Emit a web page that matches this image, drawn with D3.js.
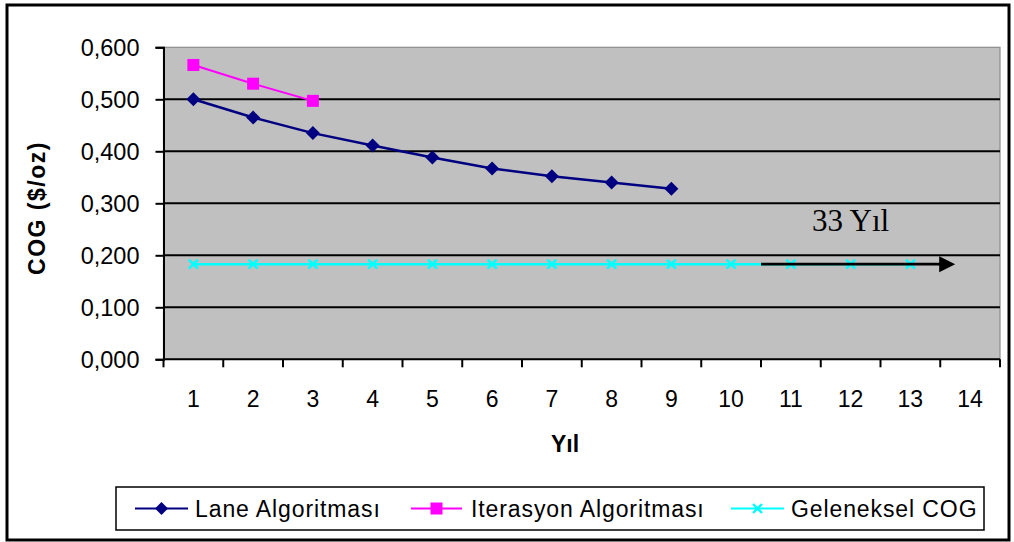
<!DOCTYPE html>
<html>
<head>
<meta charset="utf-8">
<script src="https://cdn.jsdelivr.net/npm/d3@7"></script>
<style>
  html, body { margin: 0; padding: 0; background: #fff; }
  svg { display: block; }
</style>
</head>
<body>
<svg id="chart" width="1014" height="542"></svg>
<script>
// Years on the category axis
const years = [1, 2, 3, 4, 5, 6, 7, 8, 9, 10, 11, 12, 13, 14];
// COG values ($/oz) per year
const laneValues = [0.500, 0.465, 0.435, 0.411, 0.388, 0.367, 0.352, 0.340, 0.328];
const iterValues = [0.566, 0.530, 0.497];
const geleneksel = [0.183, 0.183, 0.183, 0.183, 0.183, 0.183, 0.183, 0.183, 0.183, 0.183, 0.183, 0.183, 0.183];
// Value-axis tick labels
const yTicks = [0, 0.1, 0.2, 0.3, 0.4, 0.5, 0.6];
const yTickLabels = ["0,000", "0,100", "0,200", "0,300", "0,400", "0,500", "0,600"];
// Series names
const seriesNames = ["Lane Algoritması", "Iterasyon Algoritması", "Geleneksel COG"];
// "33 Yıl" note: arrow from year 10.5 to 13.75 at the Geleneksel level
const noteText = "33 Yıl";
const arrowFrom = 10.5, arrowTo = 13.75;

const svg = d3.select("#chart");
const plot = { left: 163.5, right: 1000, top: 47.3, bottom: 359.3 };
const font = "'Liberation Sans', Arial, sans-serif";

// Outer chart frame
svg.append("rect")
  .attr("x", 7).attr("y", 5).attr("width", 1002).attr("height", 535)
  .attr("fill", "#fff").attr("stroke", "#000").attr("stroke-width", 3);

const x = d3.scaleBand().domain(years).range([plot.left, plot.right]).padding(0);
const xc = d3.scaleLinear().domain([0.5, years.length + 0.5]).range([plot.left, plot.right]);
const y = d3.scaleLinear().domain([0, 0.6]).range([plot.bottom, plot.top]);
const cx = d => x(d) + x.bandwidth() / 2;

// Plot area
svg.append("rect")
  .attr("x", plot.left).attr("y", plot.top)
  .attr("width", plot.right - plot.left).attr("height", plot.bottom - plot.top)
  .attr("fill", "#C0C0C0").attr("stroke", "#8c8c8c").attr("stroke-width", 1.2);

// Horizontal gridlines
svg.append("g").selectAll("line")
  .data(yTicks.filter(v => v > 0 && v < 0.6))
  .join("line")
  .attr("x1", plot.left).attr("x2", plot.right)
  .attr("y1", d => y(d)).attr("y2", d => y(d))
  .attr("stroke", "#000").attr("stroke-width", 2);

// Y axis
const yAxis = d3.axisLeft(y).tickValues(yTicks).tickSize(8).tickPadding(0)
  .tickFormat((d, i) => yTickLabels[i]);
const gy = svg.append("g").attr("transform", `translate(${plot.left},0)`).call(yAxis);
gy.select(".domain").attr("stroke", "#000").attr("stroke-width", 2);
gy.selectAll(".tick line").attr("stroke", "#000").attr("stroke-width", 2);
gy.selectAll(".tick text")
  .attr("x", -24).attr("dy", "0.36em")
  .attr("font-family", font).attr("font-size", 23.5).attr("fill", "#000");

// X axis (ticks at category boundaries)
svg.append("line")
  .attr("x1", plot.left).attr("x2", plot.right)
  .attr("y1", plot.bottom).attr("y2", plot.bottom)
  .attr("stroke", "#000").attr("stroke-width", 2);
svg.append("g").selectAll("line")
  .data(d3.range(years.length + 1))
  .join("line")
  .attr("x1", i => xc(i + 0.5)).attr("x2", i => xc(i + 0.5))
  .attr("y1", plot.bottom).attr("y2", plot.bottom + 8)
  .attr("stroke", "#000").attr("stroke-width", 2);
svg.append("g").selectAll("text")
  .data(years)
  .join("text")
  .attr("x", d => cx(d)).attr("y", 406.5)
  .attr("text-anchor", "middle")
  .attr("font-family", font).attr("font-size", 23).attr("fill", "#000")
  .text(d => d);

// Axis titles
svg.append("text")
  .attr("transform", `translate(45,208) rotate(-90)`)
  .attr("text-anchor", "middle")
  .attr("font-family", font).attr("font-size", 23).attr("font-weight", "bold")
  .attr("letter-spacing", 1.5)
  .text("COG ($/oz)");
svg.append("text")
  .attr("x", 565).attr("y", 452)
  .attr("text-anchor", "middle")
  .attr("font-family", font).attr("font-size", 23).attr("font-weight", "bold")
  .text("Yıl");

// Series
const line = d3.line().x((d, i) => cx(years[i])).y(d => y(d));

// Geleneksel COG
svg.append("path").datum(geleneksel)
  .attr("d", line).attr("fill", "none")
  .attr("stroke", "#00FFFF").attr("stroke-width", 2.5);
const xMark = (g, s) => g.append("path")
  .attr("d", `M${-s},${-s}L${s},${s}M${-s},${s}L${s},${-s}`)
  .attr("stroke", "#00FFFF").attr("stroke-width", 2.4).attr("fill", "none");
svg.append("g").selectAll("g")
  .data(geleneksel)
  .join("g")
  .attr("transform", (d, i) => `translate(${cx(years[i])},${y(d)})`)
  .each(function () { xMark(d3.select(this), 4.5); });

// Iterasyon Algoritması
svg.append("path").datum(iterValues)
  .attr("d", line).attr("fill", "none")
  .attr("stroke", "#FF00FF").attr("stroke-width", 2);
svg.append("g").selectAll("rect")
  .data(iterValues)
  .join("rect")
  .attr("x", (d, i) => cx(years[i]) - 6).attr("y", d => y(d) - 6)
  .attr("width", 12).attr("height", 12)
  .attr("fill", "#FF00FF");

// Lane Algoritması
svg.append("path").datum(laneValues)
  .attr("d", line).attr("fill", "none")
  .attr("stroke", "#000080").attr("stroke-width", 2.5);
const diamond = s => `M0,${-s}L${s},0L0,${s}L${-s},0Z`;
svg.append("g").selectAll("path")
  .data(laneValues)
  .join("path")
  .attr("d", diamond(7))
  .attr("transform", (d, i) => `translate(${cx(years[i])},${y(d)})`)
  .attr("fill", "#000080");

// Arrow annotation
const arrowY = y(geleneksel[0]);
svg.append("line")
  .attr("x1", xc(arrowFrom)).attr("x2", xc(arrowTo) - 12)
  .attr("y1", arrowY).attr("y2", arrowY)
  .attr("stroke", "#000").attr("stroke-width", 2.8);
svg.append("path")
  .attr("d", `M${xc(arrowTo)},${arrowY}L${xc(arrowTo) - 16},${arrowY - 8}L${xc(arrowTo) - 16},${arrowY + 8}Z`)
  .attr("fill", "#000");
svg.append("text")
  .attr("x", xc(12)).attr("y", y(0.247))
  .attr("text-anchor", "middle")
  .attr("font-family", "'Liberation Serif', 'Times New Roman', serif")
  .attr("font-size", 31).attr("fill", "#000")
  .text(noteText);

// Legend
const legend = svg.append("g");
legend.append("rect")
  .attr("x", 116).attr("y", 487).attr("width", 868).attr("height", 43)
  .attr("fill", "#fff").attr("stroke", "#000").attr("stroke-width", 1.5);
const legendItems = [
  { name: seriesNames[0], color: "#000080", x0: 135, x1: 188, tx: 195, mark: "diamond" },
  { name: seriesNames[1], color: "#FF00FF", x0: 411, x1: 462, tx: 471, mark: "square" },
  { name: seriesNames[2], color: "#00FFFF", x0: 731, x1: 784, tx: 791, mark: "x" }
];
const ly = 508.5;
legendItems.forEach(it => {
  const g = legend.append("g");
  g.append("line").attr("x1", it.x0).attr("x2", it.x1).attr("y1", ly).attr("y2", ly)
    .attr("stroke", it.color).attr("stroke-width", 2.2);
  const mx = (it.x0 + it.x1) / 2;
  if (it.mark === "diamond") {
    g.append("path").attr("d", diamond(6.5)).attr("transform", `translate(${mx},${ly})`).attr("fill", it.color);
  } else if (it.mark === "square") {
    g.append("rect").attr("x", mx - 6).attr("y", ly - 6).attr("width", 12).attr("height", 12).attr("fill", it.color);
  } else {
    xMark(g.append("g").attr("transform", `translate(${mx},${ly})`), 4.5);
  }
  g.append("text").attr("x", it.tx).attr("y", ly + 8.5)
    .attr("font-family", font).attr("font-size", 23).attr("letter-spacing", 0.9).attr("fill", "#000")
    .text(it.name);
});
</script>
</body>
</html>
